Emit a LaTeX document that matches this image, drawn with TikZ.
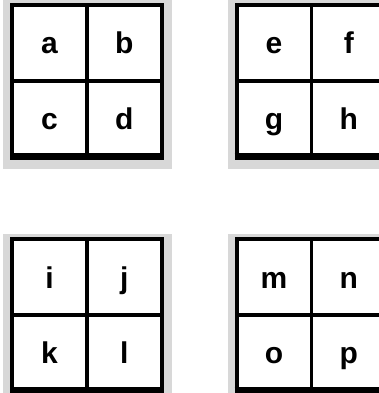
\documentclass[tikz,border=0pt]{standalone}
\usepackage{fontspec}
\setsansfont{Liberation Sans}
\usetikzlibrary{positioning,backgrounds}
\definecolor{shadowgray}{RGB}{200,200,200}

\begin{document}
\begin{tikzpicture}[x=1pt,y=-1pt,
    cell/.style={draw,fill=white,line width=1.8pt,minimum width=73pt,minimum height=74pt,inner sep=0pt,
      text height=22pt,text depth=0pt,font=\sffamily\bfseries\fontsize{30}{30}\selectfont},
    frame/.style={line width=4pt},
    base/.style={line width=7pt}]
  \useasboundingbox (0,0) rectangle (378,393);
  % four 2x2 blocks
  \foreach \p/\q/\r/\s/\x/\y in {a/b/c/d/49.5/43, e/f/g/h/274/43, i/j/k/l/49.5/277, m/n/o/p/274/277}{
    \node[cell] (\p) at (\x,\y) {\p};
    \node[cell,right=0pt of \p] (\q) {\q};
    \node[cell,below=0pt of \p] (\r) {\r};
    \node[cell,right=0pt of \r] (\s) {\s};
    \draw[frame] (\p.north west) rectangle (\s.south east);
    \draw[base] ([xshift=-2pt]\r.south west) -- ([xshift=2pt]\s.south east);
    \begin{scope}[on background layer]
      \fill[shadowgray!70] ([shift={(-9pt,5pt)}]\p.north west) rectangle ([shift={(10pt,-12pt)}]\s.south east);
    \end{scope}
  }
\end{tikzpicture}
\end{document}
